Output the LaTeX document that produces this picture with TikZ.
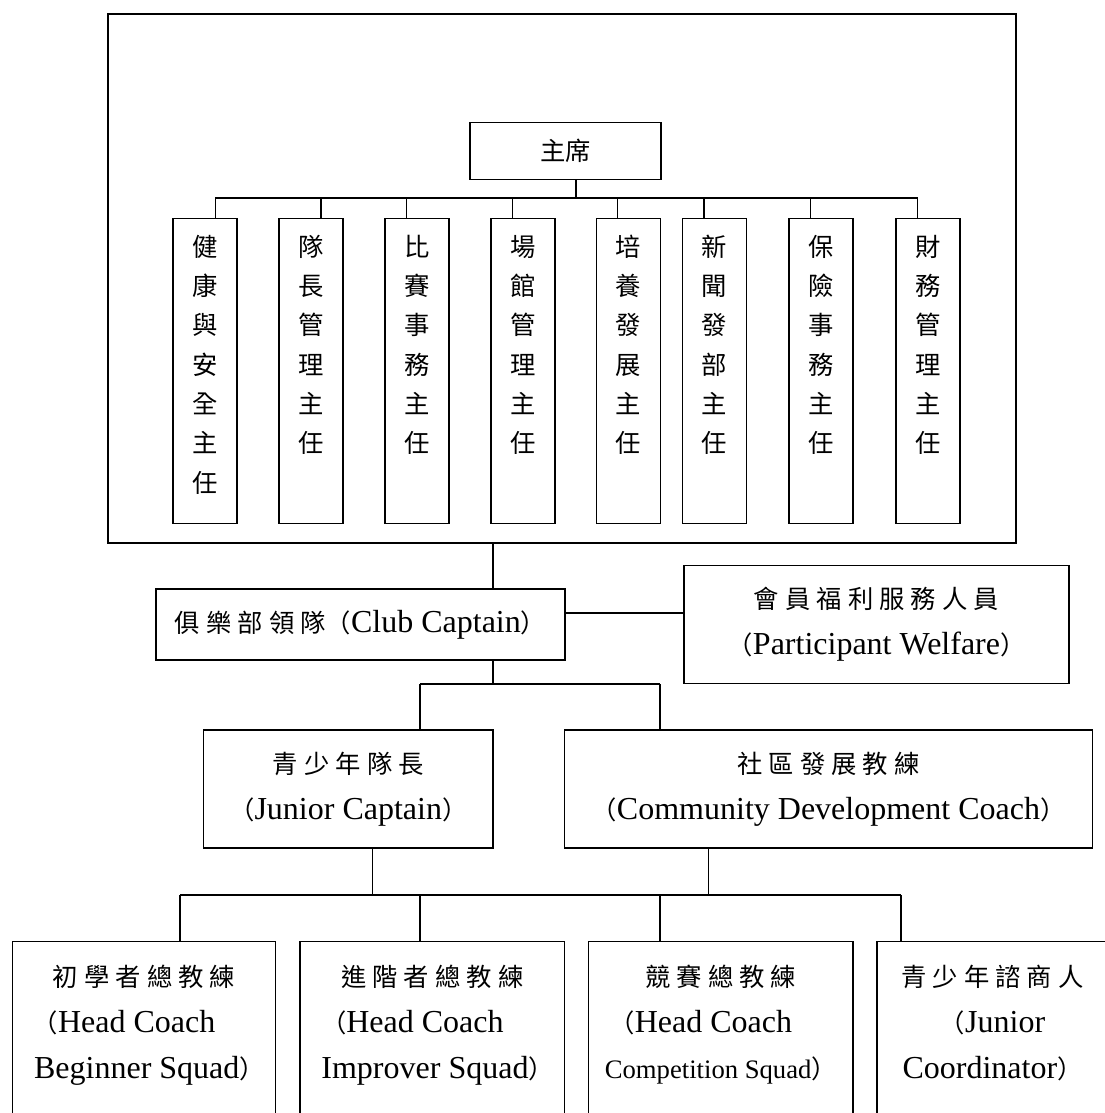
\documentclass[tikz,border=0pt]{standalone}
\usepackage{fontspec}
\setmainfont{Liberation Serif}
\newfontfamily\zhfont{Noto Sans CJK TC}
\newfontfamily\zhwide[LetterSpace=24]{Noto Sans CJK TC}
\newfontfamily\zhparen{Noto Sans CJK JP}
\newcommand{\zh}[1]{{\zhwide\fontsize{19pt}{34.5pt}\selectfont #1}}
\newcommand{\zhp}[1]{{\zhparen\fontsize{19pt}{34.5pt}\selectfont #1}}
\newcommand{\colname}[1]{\parbox[c][228.4pt][t]{48pt}{\centering\zhfont\fontsize{19pt}{29.5pt}\selectfont\rule{0pt}{28.2pt}#1}}
\newcommand{\squadname}[2]{\parbox[c][150pt][t]{#1}{\centering\rule{0pt}{33.5pt}#2}}

\begin{document}
\begin{tikzpicture}[x=0.75pt,y=0.75pt,line width=0.9pt,
    box/.style={draw, inner sep=0pt},
    role/.style={box, align=center, font=\fontsize{24pt}{34.5pt}\selectfont}]
    \clip (0,0) rectangle (1105,-1113);
    % committee
    \node[box, minimum width=681pt, minimum height=396.75pt] (board) at (562,-278.5) {};
    \node[box, minimum width=143.25pt, minimum height=42.4pt, font=\zhfont\fontsize{19pt}{23pt}\selectfont] (chair) at (565.5,-151) {主席};
    \node[box, anchor=north] (health) at (205,-218) {\colname{健\\康\\與\\安\\全\\主\\任}};
    \node[box, anchor=north] (captains) at (311,-218) {\colname{隊\\長\\管\\理\\主\\任}};
    \node[box, anchor=north] (matches) at (417,-218) {\colname{比\\賽\\事\\務\\主\\任}};
    \node[box, anchor=north] (venue) at (523,-218) {\colname{場\\館\\管\\理\\主\\任}};
    \node[box, anchor=north] (training) at (628.5,-218) {\colname{培\\養\\發\\展\\主\\任}};
    \node[box, anchor=north] (press) at (714.6,-218) {\colname{新\\聞\\發\\部\\主\\任}};
    \node[box, anchor=north] (insurance) at (821,-218) {\colname{保\\險\\事\\務\\主\\任}};
    \node[box, anchor=north] (finance) at (928,-218) {\colname{財\\務\\管\\理\\主\\任}};
    \coordinate (chairbus) at (576,-198);
    \draw (chair.south -| chairbus) -- (chairbus);
    \draw ([xshift=8pt]health.north) |- (chairbus) -| ([xshift=-8pt]finance.north);
    \draw ([xshift=7.5pt]captains.north) -- ([xshift=7.5pt]captains.north |- chairbus);
    \draw ([xshift=-8pt]matches.north) -- ([xshift=-8pt]matches.north |- chairbus);
    \draw ([xshift=-8pt]venue.north) -- ([xshift=-8pt]venue.north |- chairbus);
    \draw ([xshift=-8pt]training.north) -- ([xshift=-8pt]training.north |- chairbus);
    \draw ([xshift=-8pt]press.north) -- ([xshift=-8pt]press.north |- chairbus);
    \draw ([xshift=-8pt]insurance.north) -- ([xshift=-8pt]insurance.north |- chairbus);
    % captain and coaches
    \node[role, minimum width=306.75pt, minimum height=53.25pt] (club) at (360.5,-624.5) {\zh{俱樂部領隊}\zhp{（}Club Captain\zhp{）}};
    \node[role, minimum width=288.75pt, minimum height=88.5pt] (welfare) at (876.5,-624.6) {\zh{會員福利服務人員}\\\zhp{（}Participant Welfare\zhp{）}};
    \node[role, minimum width=217pt, minimum height=88.5pt] (junior) at (348.3,-789) {\zh{青少年隊長}\\\zhp{（}Junior Captain\zhp{）}};
    \node[role, minimum width=396pt, minimum height=88.5pt] (community) at (828.5,-789) {\zh{社區發展教練}\\\zhp{（}Community Development Coach\zhp{）}};
    \coordinate (clubbus) at (493,-684);
    \coordinate (jleft) at (420,-684);
    \coordinate (jright) at (660,-684);
    \draw (board.south -| clubbus) -- (club.north -| clubbus);
    \draw ([yshift=8.6pt]club.east) -- ([yshift=8.6pt]club.east -| welfare.west);
    \draw (club.south -| clubbus) -- (clubbus);
    \draw (jleft) -- (jright);
    \draw (jleft) -- (junior.north -| jleft);
    \draw (jright) -- (community.north -| jright);
    % squads
    \node[role, anchor=north] (beginner) at (144.1,-941) {\squadname{197.4pt}{\zh{初學者總教練}\\\zhp{（}Head Coach\hspace{30pt}\mbox{}\\\hspace*{8pt}Beginner Squad\zhp{）}}};
    \node[role, anchor=north] (improver) at (432.3,-941) {\squadname{198.45pt}{\zh{進階者總教練}\\\zhp{（}Head Coach\hspace{30pt}\mbox{}\\\hspace*{8pt}Improver Squad\zhp{）}}};
    \node[role, anchor=north] (competition) at (720.8,-941) {\squadname{198.3pt}{\zh{競賽總教練}\\\zhp{（}Head Coach\hspace{30pt}\mbox{}\\{\fontsize{20pt}{34.5pt}\selectfont Competition Squad}\zhp{）}}};
    \node[role, anchor=north] (coordinator) at (992.5,-941) {\squadname{173.25pt}{\zh{青少年諮商人}\\\zhp{（}Junior\\Coordinator\zhp{）}}};
    \coordinate (jstem) at (372.5,-895);
    \coordinate (cstem) at (708.6,-895);
    \coordinate (sqleft) at (180,-895);
    \coordinate (sqright) at (901,-895);
    \draw (junior.south -| jstem) -- (jstem);
    \draw (community.south -| cstem) -- (cstem);
    \draw (sqleft) -- (sqright);
    \draw (sqleft) -- (beginner.north -| sqleft);
    \draw (jleft |- sqleft) -- (improver.north -| jleft);
    \draw (jright |- sqleft) -- (competition.north -| jright);
    \draw (sqright) -- (coordinator.north -| sqright);
\end{tikzpicture}
\end{document}
